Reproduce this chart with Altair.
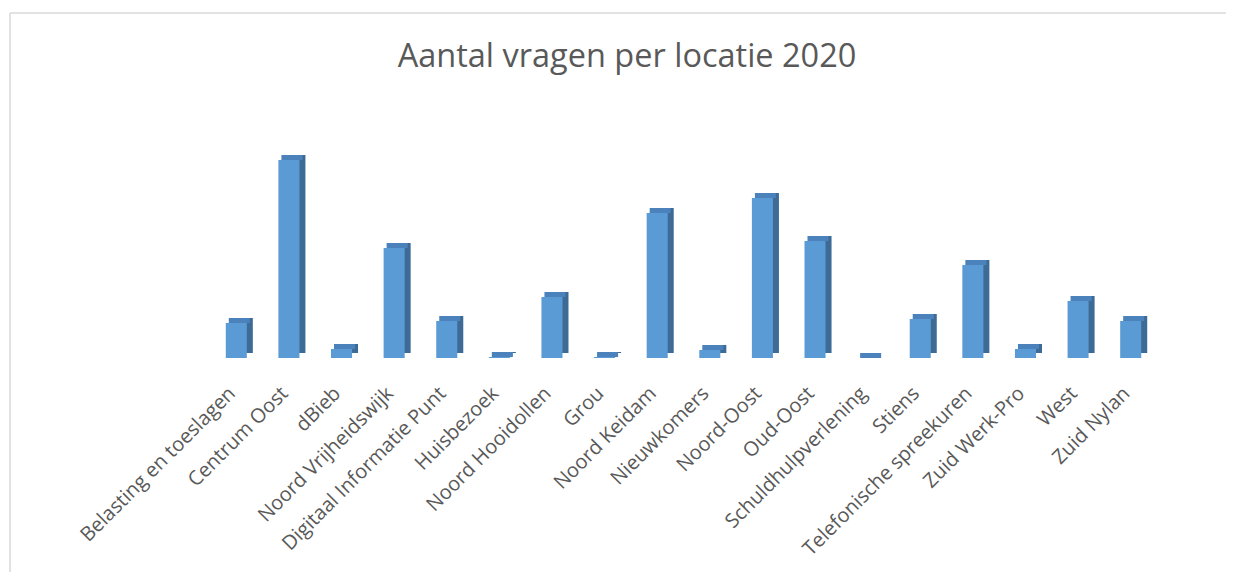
import altair as alt
import pandas as pd

titel = "Aantal vragen per locatie 2020"
locaties = ["Belasting en toeslagen", "Centrum Oost", "dBieb", "Noord Vrijheidswijk",
            "Digitaal Informatie Punt", "Huisbezoek", "Noord Hooidollen", "Grou",
            "Noord Keidam", "Nieuwkomers", "Noord-Oost", "Oud-Oost",
            "Schuldhulpverlening", "Stiens", "Telefonische spreekuren",
            "Zuid Werk-Pro", "West", "Zuid Nylan"]
aantallen = [35, 198, 9, 110, 37, 1, 61, 1, 145, 8, 160, 117, 0, 39, 93, 9, 57, 37]

df = pd.DataFrame({"locatie": locaties, "aantal": aantallen})

W, H = 947, 240
x = alt.X("locatie:N", sort=locaties,
          scale=alt.Scale(paddingInner=0.6, paddingOuter=0.3),
          axis=alt.Axis(title=None, labelAngle=-45, labelAlign="right", labelBaseline="middle",
                        domain=False, ticks=False, labelOffset=-4,
                        labelFont="Open Sans", labelFontSize=20, labelColor="#595959",
                        labelPadding=32, labelLimit=400))
y = alt.Y("aantal:Q", scale=alt.Scale(domain=[0, 240]), axis=None)

base = alt.Chart(df)
side = base.mark_bar(color="#3e6b96", xOffset=6, yOffset=-5, y2Offset=-5).encode(x=x, y=y, y2=alt.datum(0))
top = base.mark_bar(color="#4b82bb", xOffset=3, yOffset=-5).encode(x=x, y=y, y2="aantal:Q")
front = base.mark_bar(color="#5b9bd5").encode(x=x, y=y)

one = pd.DataFrame({"t": [titel]})
frame_left = alt.Chart(one).mark_rule(color="#d9d9d9", strokeWidth=1.5).encode(
    x=alt.value(-200), y=alt.value(-105), y2=alt.value(470))
frame_top = alt.Chart(one).mark_rule(color="#d9d9d9", strokeWidth=1.5).encode(
    x=alt.value(-200), x2=alt.value(1030), y=alt.value(-105))
title_txt = alt.Chart(one).mark_text(font="Open Sans", fontSize=32.5, color="#595959",
                                     align="center", baseline="alphabetic").encode(
    x=alt.value(417), y=alt.value(-51), text="t:N")

chart = alt.layer(frame_left, frame_top, title_txt, side, top, front).properties(
    width=W, height=H,
    autosize=alt.AutoSizeParams(type="none"),
    padding={"left": 202, "top": 110, "right": 69, "bottom": 214},
).configure_view(stroke=None)

chart.save("out.html", embed_options={"renderer": "svg", "actions": False})
